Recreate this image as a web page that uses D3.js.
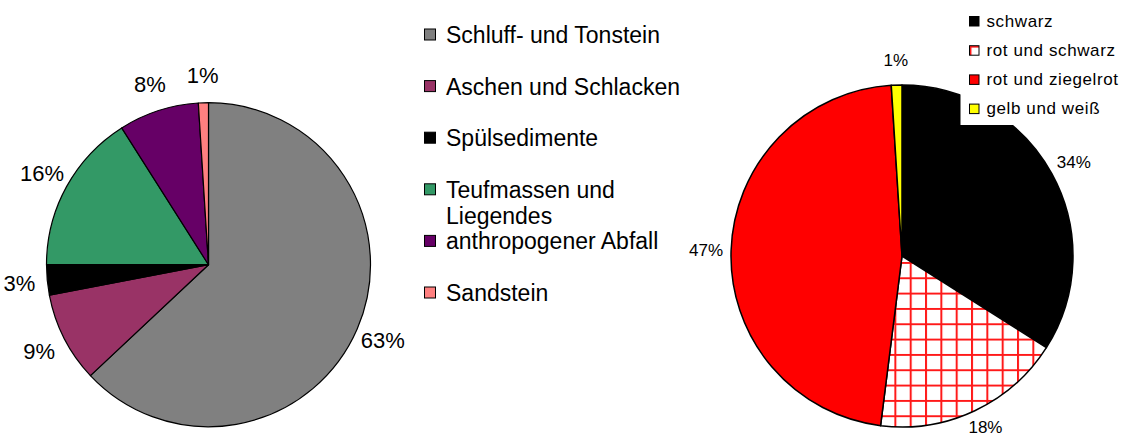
<!DOCTYPE html>
<html>
<head>
<meta charset="utf-8">
<script src="https://cdn.jsdelivr.net/npm/d3@7"></script>
<style>
  html, body { margin: 0; padding: 0; background: #fff; }
  svg { display: block; font-family: "Liberation Sans", Arial, sans-serif; }
</style>
</head>
<body>
<svg id="chart" width="1121" height="438"></svg>
<script>
// Gesteinsarten (linkes Diagramm)
const rockCategories = [
  "Schluff- und Tonstein",
  "Aschen und Schlacken",
  "Spülsedimente",
  "Teufmassen und Liegendes",
  "anthropogener Abfall",
  "Sandstein"
];
const rockValues = [63, 9, 3, 16, 8, 1];
const rockColors = ["#808080", "#993366", "#000000", "#339966", "#660066", "#ff8080"];

// Farben (rechtes Diagramm)
const colorCategories = ["schwarz", "rot und schwarz", "rot und ziegelrot", "gelb und weiß"];
const colorValues = [34, 18, 47, 1];
const colorFills = ["#000000", "url(#hatch)", "#ff0000", "#ffff00"];
const colorKeyFills = ["#000000", "url(#hatchKey)", "#ff0000", "#ffff00"];

const W = 1121, H = 438;
const svg = d3.select("#chart");
const defs = svg.append("defs");

// red grid hatch (coordinates are local to the element that uses it)
function gridPattern(id, x0, y0, size) {
  const p = defs.append("pattern")
    .attr("id", id)
    .attr("patternUnits", "userSpaceOnUse")
    .attr("x", x0).attr("y", y0)
    .attr("width", size).attr("height", size);
  p.append("rect").attr("width", size).attr("height", size).attr("fill", "#fff");
  p.append("path")
    .attr("d", `M1,0V${size}M0,1H${size}`)
    .attr("stroke", "#ff0000")
    .attr("stroke-opacity", 0.9)
    .attr("stroke-width", 2)
    .attr("fill", "none");
}
gridPattern("hatch", 7.7, 21.3, 15.33);
gridPattern("hatchKey", 0.5, -4.5, 15.33);

const pie = d3.pie().sort(null).value(d => d);

// ---------- left pie ----------
const L = { cx: 208.5, cy: 264.7, r: 162, labelR: 190 };
const gL = svg.append("g").attr("transform", `translate(${L.cx},${L.cy})`);
const arcL = d3.arc().innerRadius(0).outerRadius(L.r);
const labelArcL = d3.arc().innerRadius(L.labelR).outerRadius(L.labelR);
const piesL = pie(rockValues);

gL.selectAll("path.slice")
  .data(piesL)
  .join("path")
  .attr("class", "slice")
  .attr("d", arcL)
  .attr("fill", (d, i) => rockColors[i])
  .attr("stroke", "#000")
  .attr("stroke-width", 1.2)
  .attr("stroke-linejoin", "round");

gL.selectAll("text.lbl")
  .data(piesL)
  .join("text")
  .attr("class", "lbl")
  .attr("transform", d => `translate(${labelArcL.centroid(d)})`)
  .attr("text-anchor", "middle")
  .attr("dy", "0.36em")
  .attr("font-size", 22)
  .attr("fill", "#000")
  .text(d => d.data + "%");

// left legend
const legL = svg.append("g").attr("transform", "translate(424,0)");
const legLy = d3.scaleLinear().domain([0, rockCategories.length - 1]).range([34.5, 34.5 + 51.6 * 5]);
const itemsL = legL.selectAll("g.item")
  .data(rockCategories)
  .join("g")
  .attr("class", "item")
  .attr("transform", (d, i) => `translate(0,${legLy(i)})`);
itemsL.append("rect")
  .attr("x", 0.5).attr("y", -5.5)
  .attr("width", 11).attr("height", 11)
  .attr("fill", (d, i) => rockColors[i])
  .attr("stroke", "#000").attr("stroke-width", 1);
itemsL.each(function (d) {
  const parts = d === "Teufmassen und Liegendes" ? ["Teufmassen und", "Liegendes"] : [d];
  const t = d3.select(this).append("text")
    .attr("x", 22)
    .attr("font-size", 23)
    .attr("fill", "#000");
  parts.forEach((p, k) => {
    t.append("tspan").attr("x", 22).attr("y", 8.5 + k * 26.7).text(p);
  });
});

// ---------- right pie ----------
const R = { cx: 902, cy: 256, r: 171, labelR: 196 };
const gR = svg.append("g").attr("transform", `translate(${R.cx},${R.cy})`);
const arcR = d3.arc().innerRadius(0).outerRadius(R.r);
const labelArcR = d3.arc().innerRadius(R.labelR).outerRadius(R.labelR);
const piesR = pie(colorValues);

gR.selectAll("path.slice")
  .data(piesR)
  .join("path")
  .attr("class", "slice")
  .attr("d", arcR)
  .attr("fill", (d, i) => colorFills[i])
  .attr("stroke", "#000")
  .attr("stroke-width", 1.5)
  .attr("stroke-linejoin", "round");

// keep labels inside the drawing area
function labelPos(d) {
  const [x, y] = labelArcR.centroid(d);
  return [x, Math.min(y, H - R.cy - 11)];
}
gR.selectAll("text.lbl")
  .data(piesR)
  .join("text")
  .attr("class", "lbl")
  .attr("transform", d => `translate(${labelPos(d)})`)
  .attr("text-anchor", "middle")
  .attr("dy", "0.36em")
  .attr("font-size", 17)
  .attr("fill", "#000")
  .text(d => d.data + "%");

// right legend (white box over the pie)
const keyX = 969;
const legR = svg.append("g");
legR.append("rect")
  .attr("x", 960.5).attr("y", 0)
  .attr("width", W - 960.5).attr("height", 125)
  .attr("fill", "#fff");
const legRy = d3.scaleLinear().domain([0, colorCategories.length - 1]).range([21, 21 + 29.2 * 3]);
const itemsR = legR.selectAll("g.item")
  .data(colorCategories)
  .join("g")
  .attr("class", "item")
  .attr("transform", (d, i) => `translate(${keyX},${legRy(i)})`);
itemsR.append("rect")
  .attr("x", 0.5).attr("y", -4.5)
  .attr("width", 9.5).attr("height", 9.5)
  .attr("fill", (d, i) => colorKeyFills[i])
  .attr("stroke", "#000").attr("stroke-width", 1);
itemsR.append("text")
  .attr("x", 17.5)
  .attr("y", 5.5)
  .attr("font-size", 17)
  .attr("letter-spacing", 0.6)
  .attr("fill", "#000")
  .text(d => d);
</script>
</body>
</html>
